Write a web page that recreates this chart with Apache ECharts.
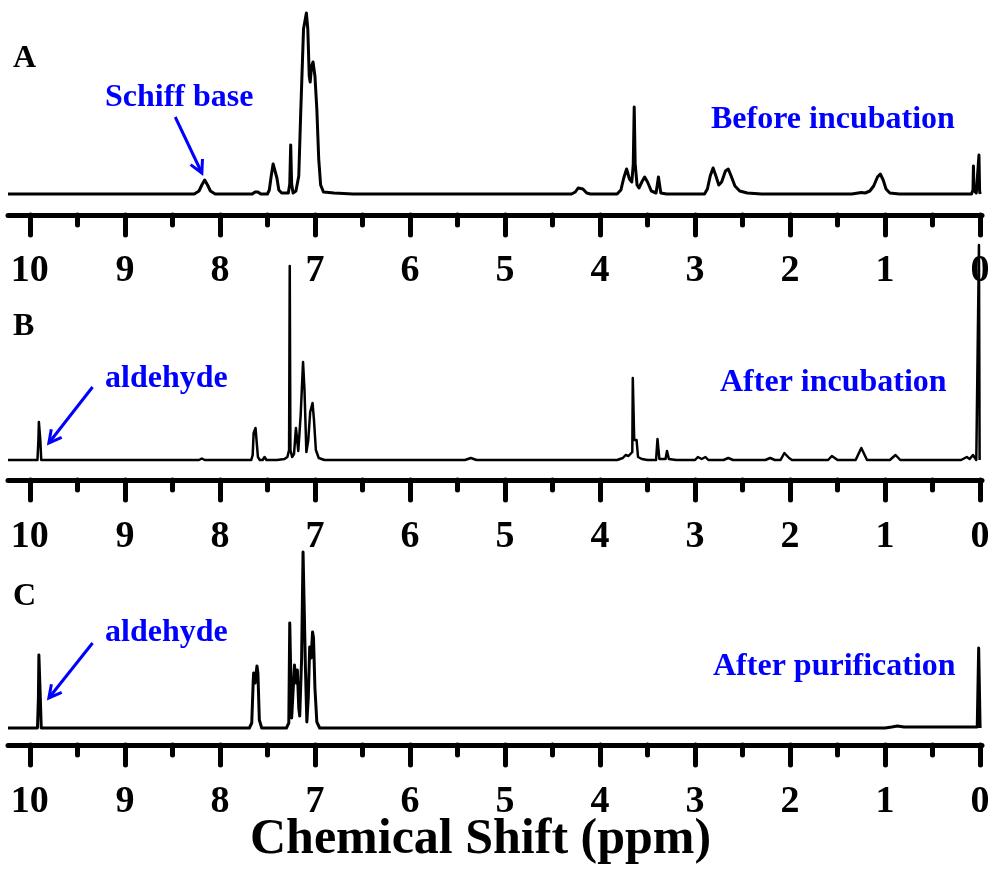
<!DOCTYPE html>
<html>
<head>
<meta charset="utf-8">
<script src="https://cdn.jsdelivr.net/npm/echarts@6/dist/echarts.min.js"></script>
<style>
  html, body { margin: 0; padding: 0; background: #fff; }
  #chart { width: 995px; height: 870px; }
</style>
</head>
<body>
<div id="chart"></div>
<script>
// ppm ticks
var majorTicks = [0, 1, 2, 3, 4, 5, 6, 7, 8, 9, 10]
var minorTicks = [0.5, 1.5, 2.5, 3.5, 4.5, 5.5, 6.5, 7.5, 8.5, 9.5]

// spectra, [ppm, intensity]
var spectrumA = [
  [10.23, 0], [8.27, 0], [8.22, 3], [8.19, 9], [8.16, 14], [8.13, 9], [8.10, 3], [8.05, 0],
  [7.66, 0], [7.63, 2], [7.60, 2], [7.57, 0],
  [7.50, 0], [7.48, 4], [7.46, 18], [7.44, 30], [7.42, 29], [7.40, 16], [7.38, 4], [7.35, 1],
  [7.28, 1], [7.265, 10], [7.255, 49], [7.245, 10], [7.23, 1],
  [7.20, 3], [7.17, 18], [7.15, 80], [7.12, 165], [7.09, 181], [7.075, 165], [7.06, 118], [7.05, 112],
  [7.035, 128], [7.02, 132], [7.00, 118], [6.98, 85], [6.96, 35], [6.94, 9], [6.91, 2], [6.80, 1], [6.60, 0],
  [4.30, 0], [4.26, 2], [4.23, 6], [4.21, 7], [4.18, 5], [4.14, 1], [4.10, 0],
  [3.82, 0], [3.78, 4], [3.75, 16], [3.72, 25], [3.69, 15], [3.665, 12], [3.65, 30], [3.64, 87],
  [3.63, 30], [3.61, 9], [3.59, 6], [3.56, 12], [3.53, 17], [3.50, 12], [3.46, 3], [3.41, 1],
  [3.385, 17], [3.37, 17], [3.36, 1], [3.30, 0],
  [2.90, 0], [2.87, 5], [2.84, 18], [2.81, 26], [2.78, 18], [2.75, 9], [2.72, 12], [2.68, 23],
  [2.65, 25], [2.62, 18], [2.58, 8], [2.53, 3], [2.45, 1], [2.30, 0],
  [1.35, 0], [1.25, 1.5], [1.21, 1], [1.16, 3], [1.12, 8], [1.08, 17], [1.05, 20], [1.02, 14],
  [0.99, 5], [0.95, 1], [0.85, 0],
  [0.09, 0], [0.075, 4], [0.07, 28], [0.065, 4], [0.04, 1], [0.02, 3], [0.012, 39], [0.005, 3], [0.0, 0]
]

var spectrumB = [
  [10.23, 0], [9.92, 0], [9.91, 20], [9.905, 38], [9.895, 38], [9.89, 20], [9.88, 0],
  [8.22, 0], [8.19, 1.5], [8.16, 0],
  [7.67, 0], [7.655, 5], [7.645, 27], [7.635, 26], [7.625, 32], [7.615, 30], [7.60, 3], [7.58, 0],
  [7.55, 0], [7.53, 3], [7.51, 0],
  [7.40, 0], [7.32, 1], [7.29, 3], [7.272, 10], [7.265, 194], [7.258, 10], [7.24, 3],
  [7.22, 6], [7.20, 32], [7.19, 30], [7.175, 9], [7.15, 45], [7.125, 98], [7.11, 70], [7.09, 8],
  [7.07, 20], [7.05, 48], [7.025, 57], [7.01, 40], [6.99, 10], [6.96, 2], [6.90, 0],
  [5.42, 0], [5.36, 2], [5.30, 0],
  [3.82, 0], [3.76, 2], [3.73, 5], [3.70, 4], [3.66, 8], [3.655, 82], [3.648, 82], [3.64, 20],
  [3.625, 18], [3.615, 20], [3.60, 3], [3.56, 1], [3.50, 0],
  [3.41, 0], [3.395, 21], [3.38, 21], [3.375, 1], [3.31, 1], [3.295, 9], [3.285, 9], [3.275, 1], [3.20, 0],
  [3.00, 0], [2.97, 3], [2.93, 1], [2.89, 3], [2.86, 0],
  [2.70, 0], [2.65, 2], [2.60, 0],
  [2.26, 0], [2.21, 2], [2.16, 0],
  [2.10, 0], [2.06, 7], [2.04, 7], [2.01, 2], [1.98, 0],
  [1.60, 0], [1.56, 4], [1.54, 5], [1.50, 0],
  [1.31, 0], [1.28, 6], [1.25, 12], [1.22, 6], [1.19, 0],
  [0.95, 0], [0.89, 5], [0.84, 0],
  [0.20, 0], [0.14, 3], [0.11, 1], [0.075, 5], [0.04, 0], [0.02, 0], [0.012, 215], [0.005, 0], [0.0, 0]
]

var spectrumC = [
  [10.23, 0], [9.92, 0], [9.91, 30], [9.905, 73], [9.895, 73], [9.89, 30], [9.88, 0],
  [7.69, 0], [7.665, 5], [7.65, 45], [7.645, 55], [7.63, 45], [7.61, 62], [7.60, 55], [7.585, 8], [7.56, 0],
  [7.30, 0], [7.275, 5], [7.265, 105], [7.255, 105], [7.245, 10], [7.235, 12], [7.215, 63], [7.20, 45],
  [7.185, 58], [7.17, 20], [7.16, 12], [7.14, 70], [7.125, 176], [7.115, 176], [7.10, 60], [7.085, 6],
  [7.07, 30], [7.055, 81], [7.04, 70], [7.025, 96], [7.015, 90], [7.00, 40], [6.98, 6], [6.95, 0],
  [1.00, 0], [0.93, 1], [0.87, 2], [0.80, 1], [0.50, 1], [0.10, 1], [0.03, 1], [0.015, 80], [0.0, 0]
]

var panelLetters = ['A', 'B', 'C']
var panelNotes = ['Before incubation', 'After incubation', 'After purification']
var peakNotes = ['Schiff base', 'aldehyde', 'aldehyde']
// arrow [fromPpm, fromIntensity, toPpm, toIntensity]
var peakArrows = [
  [8.47, 77, 8.19, 21],
  [9.34, 73, 9.80, 17],
  [9.34, 85, 9.80, 30]
]

var SERIF = '"Liberation Serif", "Times New Roman", serif'
var BLUE = '#0000ff'

// layout of the three stacked panels (pixels)
var panels = [
  { baseline: 194, ymax: 182, axisGap: 21, labelMargin: 37, lineWidth: 3, letterY: 59, noteY: 120, noteX: 711, peakNoteY: 98 },
  { baseline: 460, ymax: 215, axisGap: 20, labelMargin: 38, lineWidth: 2.5, letterY: 327, noteY: 383, noteX: 720, peakNoteY: 379 },
  { baseline: 728, ymax: 176, axisGap: 17, labelMargin: 38, lineWidth: 3, letterY: 597, noteY: 667, noteX: 713, peakNoteY: 633 }
]
var spectra = [spectrumA, spectrumB, spectrumC]

var chart = echarts.init(document.getElementById('chart'))

var grids = []
var xAxes = []
var yAxes = []
var series = []

panels.forEach(function (p, i) {
  grids.push({ left: 8, right: 13, top: p.baseline - p.ymax, bottom: 870 - p.baseline })
  var common = {
    gridIndex: i,
    type: 'value',
    inverse: true,
    min: -0.02,
    max: 10.23,
    position: 'bottom',
    offset: p.axisGap,
    splitLine: { show: false }
  }
  xAxes.push(Object.assign({}, common, {
    axisLine: { show: true, onZero: false, lineStyle: { color: '#000', width: 5, cap: 'round' } },
    axisTick: { show: true, customValues: majorTicks, length: 20, lineStyle: { color: '#000', width: 5, cap: 'round' } },
    axisLabel: {
      show: true,
      customValues: majorTicks,
      margin: p.labelMargin,
      color: '#000',
      fontFamily: SERIF,
      fontWeight: 'bold',
      fontSize: 38
    }
  }))
  xAxes.push(Object.assign({}, common, {
    axisLine: { show: false, onZero: false },
    axisTick: { show: true, customValues: minorTicks, length: 10, lineStyle: { color: '#000', width: 5, cap: 'round' } },
    axisLabel: { show: false }
  }))
  yAxes.push({ gridIndex: i, type: 'value', min: 0, max: p.ymax, show: false })
  series.push({
    type: 'line',
    xAxisIndex: i * 2,
    yAxisIndex: i,
    data: spectra[i],
    showSymbol: false,
    clip: false,
    lineStyle: { color: '#000', width: p.lineWidth, join: 'round' }
  })
})

chart.setOption({
  animation: false,
  backgroundColor: '#fff',
  grid: grids,
  xAxis: xAxes,
  yAxis: yAxes,
  series: series
})

// annotations
var graphics = []
panels.forEach(function (p, i) {
  graphics.push({
    type: 'text', x: 13, y: p.letterY,
    style: { text: panelLetters[i], font: 'bold 32px ' + SERIF, fill: '#000', verticalAlign: 'middle' }
  })
  graphics.push({
    type: 'text', x: p.noteX, y: p.noteY,
    style: { text: panelNotes[i], font: 'bold 32px ' + SERIF, fill: BLUE, verticalAlign: 'middle' }
  })
  graphics.push({
    type: 'text', x: 105, y: p.peakNoteY,
    style: { text: peakNotes[i], font: 'bold 32px ' + SERIF, fill: BLUE, verticalAlign: 'middle' }
  })

  var a = peakArrows[i]
  var s = chart.convertToPixel({ gridIndex: i }, [a[0], a[1]])
  var t = chart.convertToPixel({ gridIndex: i }, [a[2], a[3]])
  var dx = s[0] - t[0]
  var dy = s[1] - t[1]
  var len = Math.sqrt(dx * dx + dy * dy)
  dx /= len
  dy /= len
  var ang = 28 * Math.PI / 180
  var head = 14
  function arm(sign) {
    var c = Math.cos(sign * ang)
    var sn = Math.sin(sign * ang)
    return [t[0] + head * (dx * c - dy * sn), t[1] + head * (dx * sn + dy * c)]
  }
  graphics.push({
    type: 'polyline',
    shape: { points: [s, t] },
    style: { stroke: BLUE, lineWidth: 3, fill: null }
  })
  graphics.push({
    type: 'polyline',
    shape: { points: [arm(1), t, arm(-1)] },
    style: { stroke: BLUE, lineWidth: 3, fill: null, lineJoin: 'miter' }
  })
})

graphics.push({
  type: 'text', x: 250, y: 840,
  style: { text: 'Chemical Shift (ppm)', font: 'bold 50px ' + SERIF, fill: '#000', verticalAlign: 'middle' }
})

chart.setOption({ graphic: graphics })
</script>
</body>
</html>
